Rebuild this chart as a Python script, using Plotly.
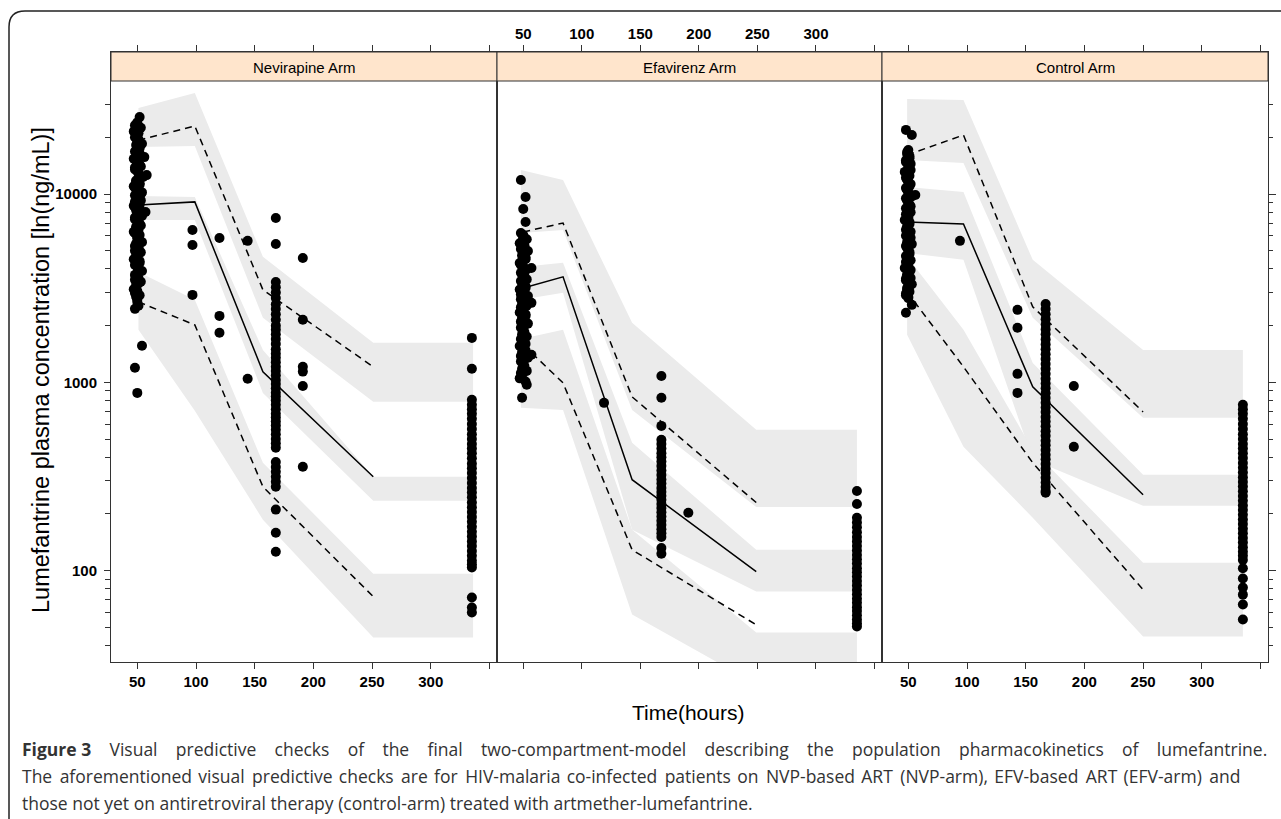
import plotly.graph_objects as go

W, H = 1281, 819

# ---------------- data ----------------
arm_names = ["Nevirapine Arm", "Efavirenz Arm", "Control Arm"]

x_tick_vals = [50, 100, 150, 200, 250, 300, 350]
x_tick_text = ["50", "100", "150", "200", "250", "300", ""]
y_tick_vals = [100, 1000, 10000]
y_tick_text = ["100", "1000", "10000"]
y_minor_vals = [40, 50, 60, 70, 80, 90,
                200, 300, 400, 500, 600, 700, 800, 900,
                2000, 3000, 4000, 5000, 6000, 7000, 8000, 9000,
                20000, 30000]

# --- Nevirapine arm ---
nvp_bin_time = [51, 99, 157, 251, 336]
nvp_hi_top = [28600, 34400, 4640, 1622, 1622]
nvp_hi_bot = [17750, 17990, 2200, 789, 789]
nvp_mid_top = [9760, 9640, 1486, 315, 315]
nvp_mid_bot = [7280, 7280, 879, 235, 235]
nvp_lo_top = [3855, 2741, 374, 96.4, 96.4]
nvp_lo_bot = [1902, 706, 186.6, 44.2, 44.2]
nvp_line_time = [51, 99, 157, 251]
nvp_p95 = [19300, 22960, 3098, 1208]
nvp_p50 = [8740, 9080, 1138, 315]
nvp_p05 = [2673, 2018, 279, 72.8]
nvp_early_time = [52, 48, 49, 51, 48, 50, 49, 52, 48, 51, 56, 49, 52, 48, 50, 58, 51, 49, 52, 48,
                  50, 53, 49, 51, 48, 52, 50, 49, 57, 51, 48, 50, 52, 49, 51, 48, 50, 52, 49, 51,
                  48, 50, 49, 52, 48, 51, 50, 49, 48, 51, 49, 50, 48, 49, 50, 48, 54, 48, 50,
                  50, 53, 47, 51, 54, 49, 52, 47, 50, 53, 48, 51, 55, 49, 52, 47, 50, 54, 48, 51,
                  53, 49, 47, 52, 50, 54, 48, 51, 53, 49, 47, 52, 50, 54, 48, 51, 53, 49, 47, 52,
                  50, 54, 48, 51, 53, 49, 47, 52, 50, 51]
nvp_early_conc = [25600, 23200, 22000, 21000, 20000, 19000, 18200, 17500, 16800, 16000,
                  15700, 15000, 14300, 13800, 13200, 12600, 12100, 11600, 11200, 10800,
                  10400, 10000, 9700, 9400, 9100, 8800, 8500, 8200, 8030, 7800,
                  7500, 7200, 6950, 6700, 6450, 6200, 5950, 5700, 5450, 5200,
                  5000, 4800, 4600, 4400, 4200, 4000, 3800, 3650, 3500, 3350,
                  3200, 3050, 2985, 2850, 2673, 2455, 1563, 1195, 879,
                  24000, 22500, 21500, 19500, 18500, 17000, 16400, 15400, 14700, 14000,
                  13500, 12900, 12300, 11800, 11400, 11000, 10600, 10200, 9850, 9550,
                  9250, 8950, 8650, 8350, 7950, 7650, 7350, 7050, 6800, 6550,
                  6300, 6050, 5800, 5550, 5300, 5100, 4900, 4700, 4500, 4300,
                  4100, 3900, 3720, 3570, 3420, 3270, 3120, 2900, 2750, 2550]
nvp_late_time = [97, 120, 144, 168, 191, 335]
nvp_late_conc = [
    [6440, 5360, 2912],
    [5840, 2253, 1833],
    [5640, 1045],
    [7460, 5430, 3410, 3200, 3000, 2800, 2600, 2450, 2300, 2150, 2000, 1900, 1800, 1700,
     1600, 1500, 1420, 1350, 1280, 1210, 1150, 1090, 1030, 980, 930, 880, 840, 800, 760,
     720, 680, 650, 620, 590, 560, 530, 500, 475, 450, 377, 355, 335, 315, 297, 279,
     211, 159, 126],
    [4570, 2150, 1208, 1140, 957, 356],
    [1722, 1180, 807, 760, 720, 680, 640, 600, 565, 530, 500, 470, 445, 420, 395, 370,
     350, 330, 310, 292, 275, 260, 245, 230, 217, 205, 193, 182, 171, 161, 152, 143,
     135, 127, 120, 113, 108, 104, 72, 63.7, 59.9],
]

# --- Efavirenz arm ---
efv_bin_time = [48, 84, 143, 249, 335]
efv_hi_top = [13400, 11860, 2070, 560, 560]
efv_hi_bot = [6210, 6440, 714, 218, 218]
efv_mid_top = [4100, 4310, 477, 129, 129]
efv_mid_bot = [2741, 2986, 165, 77.4, 77.4]
efv_lo_top = [1700, 1902, 165, 46.9, 46.9]
efv_lo_bot = [732, 714, 58.5, 25, 25]
efv_line_time = [50, 84, 143, 249]
efv_p95 = [6290, 7010, 837, 230]
efv_p50 = [3170, 3630, 304, 98.8]
efv_p05 = [1582, 993, 129, 51.6]
efv_early_time = [48, 52, 50, 52, 48, 50, 49, 51, 48, 50, 52, 49, 48, 57, 50, 49, 51, 48, 50, 52,
                  49, 48, 50, 51, 57, 49, 48, 50, 52, 49, 48, 51, 50, 49, 48, 52, 50, 49, 57, 48,
                  51, 50, 49, 48, 53, 49,
                  50, 53, 47, 51, 54, 49, 52, 47, 50, 53, 48, 51, 53, 49, 52, 47, 50, 54, 48, 51,
                  53, 49, 47, 52, 50, 54, 48, 51, 53, 49, 47, 52, 50, 54, 48, 51, 53, 49, 47, 52]
efv_early_conc = [11860, 9640, 8320, 7100, 6210, 5900, 5600, 5350, 5100, 4850,
                  4600, 4400, 4200, 4050, 3900, 3750, 3600, 3450, 3300, 3170,
                  3050, 2930, 2820, 2700, 2643, 2600, 2500, 2400, 2300, 2200,
                  2100, 2000, 1900, 1800, 1700, 1600, 1520, 1450, 1400, 1380,
                  1320, 1250, 1180, 1120, 970, 828,
                  6050, 5750, 5480, 5220, 4980, 4720, 4500, 4300, 4120, 3970,
                  3820, 3680, 3520, 3380, 3240, 3110, 2990, 2870, 2760, 2650,
                  2550, 2450, 2350, 2250, 2150, 2050, 1950, 1850, 1750, 1650,
                  1560, 1480, 1420, 1350, 1290, 1220, 1150, 1090, 1050, 1010]
efv_late_time = [119, 168, 191, 335]
efv_late_conc = [
    [778],
    [1081, 828, 587, 495, 470, 445, 420, 400, 380, 360, 340, 322, 305, 290, 275, 262,
     250, 238, 226, 215, 204, 194, 184, 175, 166, 158, 151, 132, 123],
    [203],
    [265, 226, 191, 180, 170, 160, 151, 143, 135, 128, 121, 115, 109, 103, 98, 93, 88,
     83.5, 79, 75, 71, 67.5, 64, 61, 58, 55, 52.5, 50.5],
]

# --- Control arm ---
ctl_bin_time = [49, 97, 156, 250, 335]
ctl_hi_top = [31900, 31550, 4470, 1486, 1486]
ctl_hi_bot = [15150, 14590, 2200, 649, 649]
ctl_mid_top = [10890, 10250, 1268, 323, 323]
ctl_mid_bot = [4860, 4470, 388, 221, 221]
ctl_lo_top = [4640, 1902, 439, 110, 110]
ctl_lo_bot = [1787, 455, 191, 44.7, 44.7]
ctl_line_time = [49, 97, 156, 250]
ctl_p95 = [16110, 20560, 2517, 697]
ctl_p50 = [7100, 6935, 946, 253]
ctl_p05 = [3020, 1208, 374, 79.3]
ctl_early_time = [48, 53, 50, 49, 51, 48, 50, 52, 49, 48, 50, 51, 49, 56, 48, 50, 52, 49, 48, 50,
                  51, 49, 48, 50, 52, 49, 48, 50, 51, 49, 48, 50, 52, 49, 48, 50, 51, 49, 48, 50,
                  53, 48,
                  49, 51, 48, 52, 50, 47, 51, 49, 52, 48, 50, 53, 49, 51, 48, 52, 50, 47, 51, 49,
                  52, 48, 50, 53, 49, 51, 48, 52, 50, 47, 51, 49, 52, 48, 50, 53, 49, 51, 48, 50]
ctl_early_conc = [21900, 20560, 17100, 16300, 15500, 14800, 14100, 13400, 12800, 12200,
                  11600, 11000, 10500, 9880, 9500, 9050, 8600, 8200, 7800, 7450,
                  7100, 6750, 6450, 6150, 5850, 5550, 5300, 5050, 4800, 4550,
                  4350, 4150, 3950, 3750, 3550, 3400, 3250, 3100, 2960, 2847,
                  2578, 2340,
                  16700, 15900, 15100, 14450, 13750, 13100, 12500, 11900, 11300, 10750,
                  10200, 9700, 9250, 8800, 8400, 8000, 7620, 7270, 6920, 6600,
                  6300, 6000, 5700, 5420, 5170, 4920, 4680, 4450, 4250, 4050,
                  3850, 3650, 3580, 3480, 3350, 3320, 3170, 3030, 2900, 2800]
ctl_late_time = [94, 143, 167, 191, 335]
ctl_late_conc = [
    [5640],
    [2426, 1947, 1109, 879],
    [2606, 2450, 2300, 2160, 2030, 1910, 1800, 1690, 1590, 1500, 1410, 1330, 1250, 1180,
     1110, 1045, 985, 930, 875, 825, 780, 735, 695, 655, 620, 585, 550, 520, 490, 463,
     437, 412, 390, 368, 348, 330, 311, 294, 278, 265, 259],
    [957, 455],
    [760, 720, 680, 640, 600, 565, 530, 500, 470, 445, 420, 396, 373, 352, 332, 313, 296,
     280, 264, 249, 235, 222, 210, 198, 187, 177, 167, 158, 149, 141, 133, 126, 120, 114,
     103, 90.8, 81.3, 74.6, 66.1, 55],
]

caption_head = "Figure 3"
caption_lines = [
    "Visual predictive checks of the final two-compartment-model describing the population pharmacokinetics of lumefantrine.",
    "The aforementioned visual predictive checks are for HIV-malaria co-infected patients on NVP-based ART (NVP-arm), EFV-based ART (EFV-arm) and",
    "those not yet on antiretroviral therapy (control-arm) treated with artmether-lumefantrine.",
]

# ---------------- layout helpers (pixel -> paper) ----------------
def pxx(x):
    return x / W


def pxy(y):
    return 1 - y / H


panel_px = [(111, 497), (497, 882), (882, 1268)]
plot_top, strip_bot, plot_bot = 52, 81, 662
x_range = [27.6, 356.4]
y_range = [1.515, 4.754]

BAND = "#ebebeb"
AX = "#333333"

panels = [
    dict(bt=nvp_bin_time, bands=[(nvp_hi_top, nvp_hi_bot), (nvp_mid_top, nvp_mid_bot), (nvp_lo_top, nvp_lo_bot)],
         lt=nvp_line_time, p95=nvp_p95, p50=nvp_p50, p05=nvp_p05,
         et=nvp_early_time, ec=nvp_early_conc, lat=nvp_late_time, lac=nvp_late_conc),
    dict(bt=efv_bin_time, bands=[(efv_hi_top, efv_hi_bot), (efv_mid_top, efv_mid_bot), (efv_lo_top, efv_lo_bot)],
         lt=efv_line_time, p95=efv_p95, p50=efv_p50, p05=efv_p05,
         et=efv_early_time, ec=efv_early_conc, lat=efv_late_time, lac=efv_late_conc),
    dict(bt=ctl_bin_time, bands=[(ctl_hi_top, ctl_hi_bot), (ctl_mid_top, ctl_mid_bot), (ctl_lo_top, ctl_lo_bot)],
         lt=ctl_line_time, p95=ctl_p95, p50=ctl_p50, p05=ctl_p05,
         et=ctl_early_time, ec=ctl_early_conc, lat=ctl_late_time, lac=ctl_late_conc),
]

fig = go.Figure()

for i, p in enumerate(panels):
    xa = "x" if i == 0 else f"x{i+1}"
    ya = "y" if i == 0 else f"y{i+1}"
    for top, bot in p["bands"]:
        fig.add_trace(go.Scatter(
            x=p["bt"] + p["bt"][::-1], y=top + bot[::-1],
            fill="toself", fillcolor=BAND, line=dict(width=0), mode="lines",
            hoverinfo="skip", showlegend=False, xaxis=xa, yaxis=ya))
    ox = list(p["et"])
    oy = list(p["ec"])
    for t, cs in zip(p["lat"], p["lac"]):
        ox += [t] * len(cs)
        oy += cs
    for name, dash in (("p95", "7px,5px"), ("p50", "solid"), ("p05", "7px,5px")):
        fig.add_trace(go.Scatter(
            x=p["lt"], y=p[name], mode="lines",
            line=dict(color="black", width=1.5, dash=dash),
            hoverinfo="skip", showlegend=False, xaxis=xa, yaxis=ya))
    fig.add_trace(go.Scatter(
        x=ox, y=oy, mode="markers",
        marker=dict(color="black", size=10, line=dict(width=0)),
        showlegend=False, xaxis=xa, yaxis=ya))

tickfont = dict(family="Liberation Sans, Arial, sans-serif", size=15, color="black", weight="bold")

layout = dict(
    width=W, height=H, margin=dict(l=0, r=0, t=0, b=0),
    paper_bgcolor="white", plot_bgcolor="white",
    showlegend=False,
)

for i in range(3):
    xn = "xaxis" if i == 0 else f"xaxis{i+1}"
    yn = "yaxis" if i == 0 else f"yaxis{i+1}"
    ya = "y" if i == 0 else f"y{i+1}"
    xa = "x" if i == 0 else f"x{i+1}"
    l, r = panel_px[i]
    layout[xn] = dict(
        domain=[pxx(l), pxx(r)], anchor=ya, range=x_range,
        side="top" if i == 1 else "bottom",
        showline=True, linecolor=AX, linewidth=1, mirror="ticks",
        ticks="outside", ticklen=6, tickcolor=AX, tickwidth=1,
        tickmode="array", tickvals=x_tick_vals, ticktext=x_tick_text,
        tickfont=tickfont, showgrid=False, zeroline=False,
    )
    ydict = dict(
        domain=[pxy(plot_bot), pxy(plot_top)], anchor=xa, type="log", range=y_range,
        showline=True, linecolor=AX, linewidth=1, mirror=True,
        showgrid=False, zeroline=False,
    )
    if i == 0:
        ydict.update(side="left", ticks="outside", ticklen=6, tickcolor=AX,
                     tickmode="array", tickvals=y_tick_vals, ticktext=y_tick_text,
                     tickfont=tickfont, ticklabelstandoff=4,
                     minor=dict(tickmode="array", tickvals=y_minor_vals, ticks="outside",
                                ticklen=5, tickcolor=AX))
    elif i == 2:
        ydict.update(side="right", ticks="outside", ticklen=7, tickcolor=AX,
                     tickmode="array", tickvals=y_tick_vals, showticklabels=False,
                     minor=dict(tickmode="array", tickvals=y_minor_vals, ticks="outside",
                                ticklen=4, tickcolor=AX))
    else:
        ydict.update(ticks="", showticklabels=False, tickmode="array", tickvals=y_tick_vals)
    layout[yn] = ydict

shapes = []
annotations = []
for i in range(3):
    l, r = panel_px[i]
    shapes.append(dict(type="rect", xref="paper", yref="paper",
                       x0=pxx(l), x1=pxx(r), y0=pxy(strip_bot), y1=pxy(plot_top),
                       fillcolor="#ffe5cc", line=dict(color=AX, width=1), layer="above"))
    annotations.append(dict(text=arm_names[i], xref="paper", yref="paper",
                            x=pxx((l + r) / 2), y=pxy(67.5), xanchor="center", yanchor="middle",
                            showarrow=False,
                            font=dict(family="Liberation Sans, Arial, sans-serif", size=15, color="black")))

# outer rounded frame
rad = 16
fx0, fy0 = 9, 11
path = (f"M {pxx(fx0)},{pxy(819)} L {pxx(fx0)},{pxy(fy0 + rad)} "
        f"Q {pxx(fx0)},{pxy(fy0)} {pxx(fx0 + rad)},{pxy(fy0)} L {pxx(1281)},{pxy(fy0)}")
shapes.append(dict(type="path", xref="paper", yref="paper", path=path,
                   line=dict(color="#222222", width=1.5)))

annotations.append(dict(text="Lumefantrine plasma concentration [ln(ng/mL)]", xref="paper", yref="paper",
                        x=pxx(41), y=pxy(370), textangle=-90, xanchor="center", yanchor="middle",
                        showarrow=False,
                        font=dict(family="Liberation Sans, Arial, sans-serif", size=23.5, color="black")))
annotations.append(dict(text="Time(hours)", xref="paper", yref="paper",
                        x=pxx(688), y=pxy(712), xanchor="center", yanchor="middle", showarrow=False,
                        font=dict(family="Liberation Sans, Arial, sans-serif", size=21, color="black")))

# the caption is justified in the original: widen word gaps of the first two lines
gap_wide = " \u00a0\u00a0\u2009\u200a"
words2 = caption_lines[1].split(" ")
line2 = words2[0]
for k, w in enumerate(words2[1:]):
    line2 += (" \u2009" if k % 2 == 0 else " \u200a") + w
caption_render = [
    f"<b>{caption_head}</b>{gap_wide}" + caption_lines[0].replace(" ", gap_wide),
    line2,
    caption_lines[2],
]
for line, yy in zip(caption_render, [749, 776, 803]):
    annotations.append(dict(text=line, xref="paper", yref="paper",
                            x=pxx(20), y=pxy(yy), xanchor="left", yanchor="middle", showarrow=False,
                            font=dict(family="Open Sans, sans-serif", size=17.5, color="#333333")))

layout["shapes"] = shapes
layout["annotations"] = annotations
fig.update_layout(**layout)

fig.write_html("out.html", config={"displayModeBar": False},
               post_script="document.body.style.margin='0';document.body.style.overflow='hidden';")
